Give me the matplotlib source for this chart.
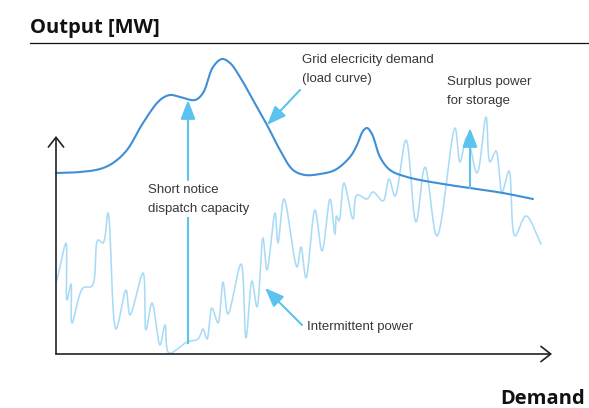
import numpy as np
import matplotlib.pyplot as plt

# Tout est lu en pixels sur l'image de référence (x vers la droite, y vers le bas)

# Courbe de charge (demande du réseau)
demand_x = [56, 80, 100, 113, 127, 143, 160, 170, 180, 195, 203, 213, 222, 230, 240,
            253, 267, 280, 293, 305, 320, 335, 350, 357, 363, 367, 372, 380, 390,
            407, 443, 470, 503, 533]
demand_y = [173, 172, 169, 163, 150, 123, 100, 95, 97, 100, 93, 67, 59, 63, 77,
            100, 125, 150, 170, 175, 174, 170, 157, 145, 131, 128, 134, 157, 170,
            177, 184, 188, 193, 199]

# Production intermittente
inter_x = [57, 61, 66, 67, 71, 72, 83, 92, 98, 103, 108, 116, 126, 130, 143, 146,
           152, 160, 165, 169, 187, 198, 203, 207, 212, 218, 223, 228, 241, 246,
           252, 257, 263, 267, 275, 278, 284, 297, 301, 306, 315, 322, 330, 335,
           336.5, 339, 344, 353, 357, 367, 373, 383, 389, 395, 406, 416, 425, 437,
           455, 460, 467, 477, 486, 490, 496, 502, 509, 515, 526, 541]
inter_y = [280, 262, 243, 300, 284, 323, 288, 286, 240, 243, 213, 329, 290, 315,
           273, 330, 303, 345, 325, 353, 342, 339, 329, 339, 308, 323, 282, 314,
           264, 338, 281, 307, 238, 270, 213, 243, 199, 267, 247, 278, 210, 251,
           199, 234, 216, 221, 183, 219, 195, 199, 192, 201, 179, 196, 140, 222,
           167, 236, 128, 162, 137, 173, 117, 162, 151, 192, 171, 236, 216, 244]

title = "Output [MW]"
xlabel = "Demand"
labels = {
    "grid": ["Grid elecricity demand", "(load curve)"],
    "surplus": ["Surplus power", "for storage"],
    "dispatch": ["Short notice", "dispatch capacity"],
    "inter": ["Intermittent power"],
}

C_DEMAND = "#3f8fd6"
C_INTER = "#a9dbf7"
C_ARROW = "#5cc2ee"
C_TEXT = "#383838"


def lisser(x, y, n=14, alpha=0.5):
    """Catmull-Rom centripète passant par les points lus (tracé seulement)."""
    P = np.column_stack([x, y]).astype(float)
    P = np.vstack([2 * P[0] - P[1], P, 2 * P[-1] - P[-2]])
    out = []
    for i in range(len(P) - 3):
        p0, p1, p2, p3 = P[i], P[i + 1], P[i + 2], P[i + 3]
        t0 = 0.0
        t1 = t0 + np.linalg.norm(p1 - p0) ** alpha
        t2 = t1 + np.linalg.norm(p2 - p1) ** alpha
        t3 = t2 + np.linalg.norm(p3 - p2) ** alpha
        t = np.linspace(t1, t2, n, endpoint=False)[:, None]
        a1 = (t1 - t) / (t1 - t0) * p0 + (t - t0) / (t1 - t0) * p1
        a2 = (t2 - t) / (t2 - t1) * p1 + (t - t1) / (t2 - t1) * p2
        a3 = (t3 - t) / (t3 - t2) * p2 + (t - t2) / (t3 - t2) * p3
        b1 = (t2 - t) / (t2 - t0) * a1 + (t - t0) / (t2 - t0) * a2
        b2 = (t3 - t) / (t3 - t1) * a2 + (t - t1) / (t3 - t1) * a3
        out.append((t2 - t) / (t2 - t1) * b1 + (t - t1) / (t2 - t1) * b2)
    out.append(P[-2][None, :])
    c = np.vstack(out)
    return c[:, 0], c[:, 1]


def fleche(ax, start, end, style, color, lw=1.5, z=5):
    ax.annotate("", xy=end, xytext=start,
                arrowprops=dict(arrowstyle=style, color=color, lw=lw,
                                shrinkA=0, shrinkB=0, mutation_scale=10),
                zorder=z)


def texte(ax, x, y0, lignes, step=19, **kw):
    for i, s in enumerate(lignes):
        ax.text(x, y0 + i * step, s, va="baseline", ha="left",
                fontsize=9.5, family="Liberation Sans", color=C_TEXT, **kw)


fig = plt.figure(figsize=(5.89, 4.08), dpi=100)
ax = fig.add_axes([0, 0, 1, 1])
ax.set_xlim(0, 589)
ax.set_ylim(408, 0)
ax.axis("off")

# Titre et filet
ax.text(30, 33, title, fontsize=14.5, fontweight="bold", family="Open Sans",
        color="#111111", va="baseline")
ax.plot([30, 589], [43, 43], color="#111111", lw=0.9)
ax.text(585, 404, xlabel, fontsize=14.5, fontweight="bold", family="Open Sans",
        color="#111111", va="baseline", ha="right")

# Axes avec flèches ouvertes
axe = "->,head_length=0.7,head_width=0.55"
fleche(ax, (56, 354), (56, 136), axe, "#222222", lw=1.2)
fleche(ax, (56, 354), (552, 354), axe, "#222222", lw=1.2)

# Courbes
xi, yi = lisser(inter_x, inter_y)
ax.plot(xi, yi, color=C_INTER, lw=1.15, zorder=2, solid_capstyle="round")
xd, yd = lisser(demand_x, demand_y)
ax.plot(xd, yd, color=C_DEMAND, lw=1.5, zorder=3, solid_capstyle="round")

# Flèches d'annotation
pleine = "-|>,head_length=1.15,head_width=0.45"
fleche(ax, (300, 90), (267, 125), pleine, C_ARROW)
fleche(ax, (302, 325), (265, 288), pleine, C_ARROW)
fleche(ax, (470, 188), (470, 128), pleine, C_ARROW)
ax.plot([188, 188], [343, 218], color=C_ARROW, lw=1.5, zorder=5)
fleche(ax, (188, 180), (188, 100), pleine, C_ARROW)

# Textes
texte(ax, 302, 63, labels["grid"])
texte(ax, 447, 85, labels["surplus"])
texte(ax, 148, 193, labels["dispatch"])
texte(ax, 307, 330, labels["inter"])

fig.savefig("out.png", dpi=100)
